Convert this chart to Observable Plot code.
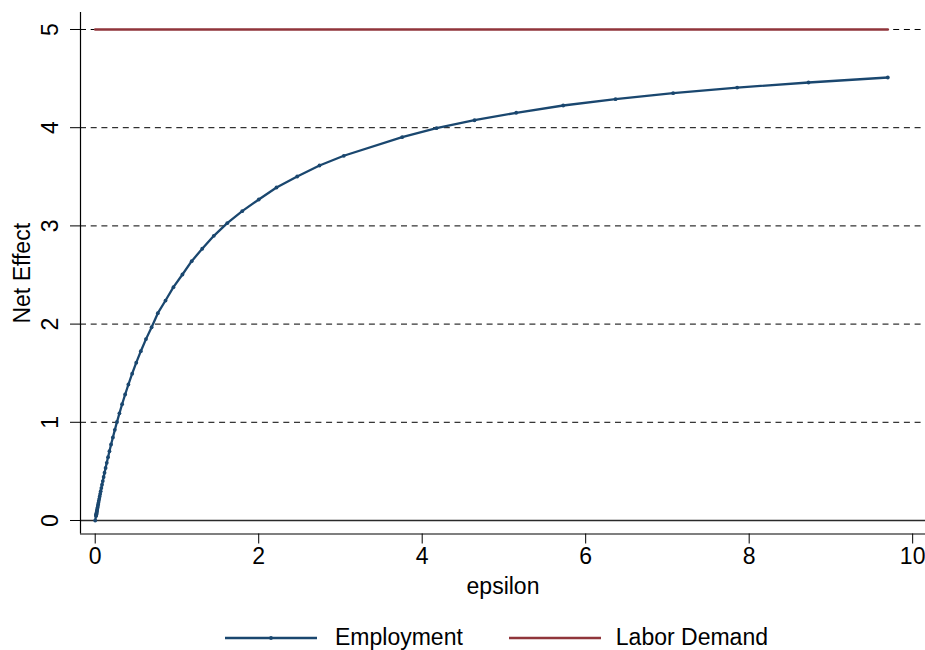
<!DOCTYPE html>
<html>
<head>
<meta charset="utf-8">
<script src="https://cdn.jsdelivr.net/npm/d3@7"></script>
<script src="https://cdn.jsdelivr.net/npm/@observablehq/plot@0.6"></script>
<style>
  html, body { margin: 0; padding: 0; background: #fff; }
  body { width: 925px; font-family: "Liberation Sans", Arial, sans-serif; }
  #legend { height: 55px; display: flex; align-items: center; font-size: 23px; color: #000; padding-left: 225px; box-sizing: border-box; }
  .item { display: flex; align-items: center; }
  .item svg { display: block; }
</style>
</head>
<body>
<div id="chart"></div>
<div id="legend"></div>
<script>
// Employment series (epsilon, net effect)
const epsilon = [0, 0.0100, 0.0112, 0.0124, 0.0138, 0.0153, 0.0170, 0.0189, 0.0210, 0.0234, 0.0260, 0.0289, 0.0321, 0.0357, 0.0397, 0.0441, 0.0490, 0.0545, 0.0606, 0.0673, 0.0749, 0.0832, 0.0925, 0.103, 0.114, 0.127, 0.141, 0.157, 0.174, 0.194, 0.216, 0.240, 0.266, 0.296, 0.329, 0.366, 0.406, 0.452, 0.502, 0.558, 0.621, 0.690, 0.766, 0.860, 0.957, 1.067, 1.180, 1.309, 1.451, 1.615, 1.798, 2.001, 2.218, 2.471, 2.744, 3.041, 3.755, 4.175, 4.640, 5.150, 5.725, 6.365, 7.070, 7.853, 8.726, 9.696];
const employment = [0, 0.047, 0.052, 0.058, 0.064, 0.071, 0.079, 0.088, 0.097, 0.108, 0.120, 0.133, 0.147, 0.163, 0.181, 0.200, 0.221, 0.245, 0.270, 0.299, 0.330, 0.364, 0.401, 0.443, 0.486, 0.535, 0.587, 0.645, 0.705, 0.774, 0.846, 0.923, 1.003, 1.091, 1.184, 1.283, 1.385, 1.495, 1.607, 1.724, 1.847, 1.968, 2.111, 2.240, 2.376, 2.505, 2.641, 2.767, 2.899, 3.028, 3.150, 3.269, 3.391, 3.503, 3.615, 3.714, 3.903, 3.995, 4.076, 4.152, 4.226, 4.290, 4.351, 4.409, 4.460, 4.511];
// Labor Demand series
const laborEpsilon = [0, 9.696];
const laborDemand = [5, 5];
// Axis ticks
const xTicks = [0, 2, 4, 6, 8, 10];
const yTicks = [0, 1, 2, 3, 4, 5];
const gridTicks = [1, 2, 3, 4, 5];
const seriesNames = ["Employment", "Labor Demand"];
const colors = ["#1a476f", "#90353b"];

const emp = epsilon.map((e, i) => ({x: e, y: employment[i]}));
const lab = laborEpsilon.map((e, i) => ({x: e, y: laborDemand[i]}));

const xDomain = [-0.18, 10.157];
const yDomain = [-0.1375, 5.173];

const chart = Plot.plot({
  width: 925,
  height: 610,
  marginLeft: 80,
  marginRight: 0,
  marginTop: 12,
  marginBottom: 76.5,
  style: {fontFamily: '"Liberation Sans", Arial, sans-serif', fontSize: "23px", color: "#000", background: "#fff", overflow: "visible"},
  x: {domain: xDomain},
  y: {domain: yDomain},
  marks: [
    Plot.ruleY(gridTicks, {stroke: "#000", strokeWidth: 1, strokeDasharray: "6,4.7"}),
    Plot.ruleY([0], {stroke: "#2a2a2a", strokeWidth: 1.3}),
    Plot.ruleX([xDomain[0]], {stroke: "#000", strokeWidth: 1.2}),
    Plot.ruleY([yDomain[0]], {stroke: "#000", strokeWidth: 1.2}),
    Plot.line(lab, {x: "x", y: "y", stroke: colors[1], strokeWidth: 2.5}),
    Plot.line(emp, {x: "x", y: "y", stroke: colors[0], strokeWidth: 2.3}),
    Plot.dot(emp, {x: "x", y: "y", r: 1.9, fill: colors[0]}),
    Plot.axisX({ticks: xTicks, tickFormat: d3.format("d"), tickSize: 10, tickPadding: 4, label: "epsilon", labelAnchor: "center", labelOffset: 59.5, labelArrow: "none"}),
    Plot.axisY({ticks: yTicks, tickFormat: d3.format("d"), tickSize: 10, tickPadding: 12.7, tickRotate: -90, label: "Net Effect", labelAnchor: "center", labelOffset: 67, labelArrow: "none"})
  ]
});
document.getElementById("chart").appendChild(chart);

// Legend
const legend = d3.select("#legend");
seriesNames.forEach((name, i) => {
  const item = legend.append("div").attr("class", "item").style("margin-right", i === 0 ? "46px" : "0px");
  const svg = item.append("svg").attr("width", 92).attr("height", 10);
  svg.append("line").attr("x1", 0).attr("x2", 92).attr("y1", 5).attr("y2", 5)
    .attr("stroke", colors[i]).attr("stroke-width", 2.5);
  if (i === 0) svg.append("circle").attr("cx", 46).attr("cy", 5).attr("r", 1.9).attr("fill", colors[i]);
  item.append("span").text(name).style("margin-left", i === 0 ? "18px" : "15px");
});
</script>
</body>
</html>
